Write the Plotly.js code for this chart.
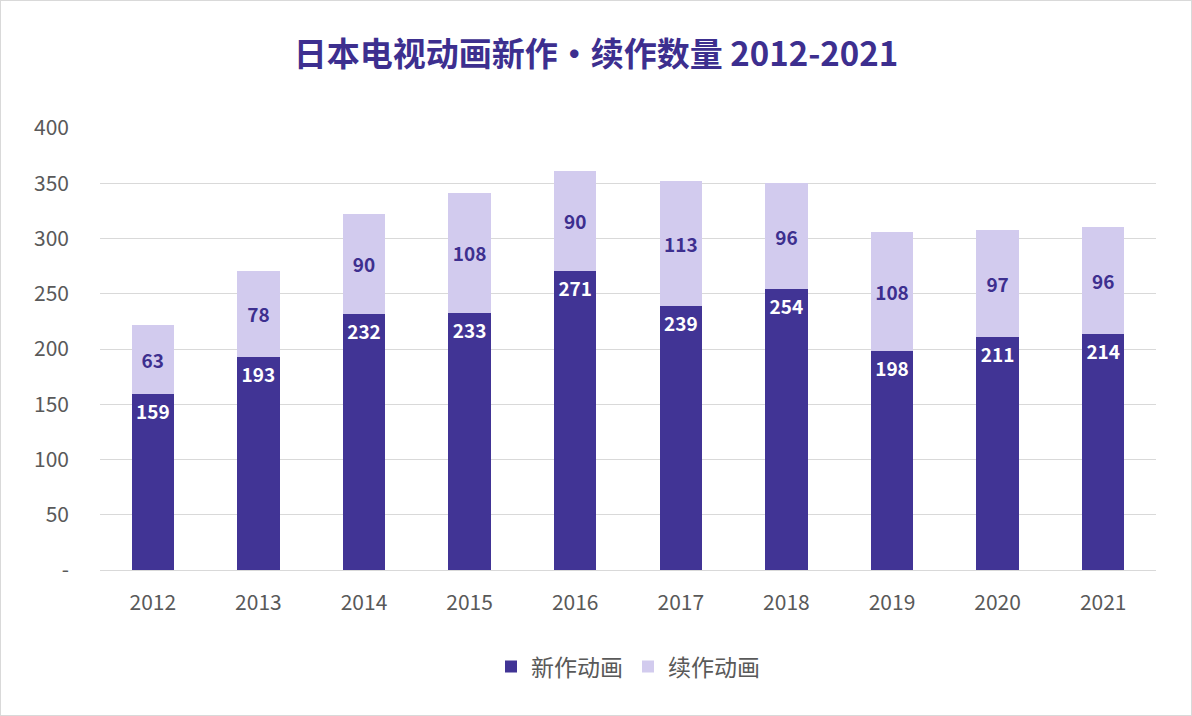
<!DOCTYPE html>
<html>
<head>
<meta charset="utf-8">
<script src="https://cdn.plot.ly/plotly-3.0.1.min.js"></script>
<style>
  body { margin: 0; }
  #chart { width: 1192px; height: 716px; box-sizing: border-box; border: 1px solid #d9d9d9; }
</style>
</head>
<body>
<div id="chart"></div>
<script>
var years = ['2012', '2013', '2014', '2015', '2016', '2017', '2018', '2019', '2020', '2021'];
var newWorks = [159, 193, 232, 233, 271, 239, 254, 198, 211, 214];
var sequels = [63, 78, 90, 108, 90, 113, 96, 108, 97, 96];
var yTicks = [0, 50, 100, 150, 200, 250, 300, 350, 400];
var yTickText = ['-', '50', '100', '150', '200', '250', '300', '350', '400'];

var fontFamily = '"Noto Sans CJK SC", "Open Sans", sans-serif';

var data = [
    {
        type: 'bar',
        name: '新作动画',
        x: years,
        y: newWorks,
        marker: { color: '#413495' },
        text: newWorks.map(String),
        textposition: 'inside',
        insidetextanchor: 'end',
        textfont: { color: '#ffffff', size: 19, family: fontFamily, weight: 'bold' },
        hoverinfo: 'x+y+name'
    },
    {
        type: 'bar',
        name: '续作动画',
        x: years,
        y: sequels,
        marker: { color: '#d2cbee' },
        text: sequels.map(String),
        textposition: 'inside',
        insidetextanchor: 'middle',
        textfont: { color: '#3d2f8f', size: 19, family: fontFamily, weight: 'bold' },
        hoverinfo: 'x+y+name'
    }
];

var layout = {
    width: 1190,
    height: 714,
    barmode: 'stack',
    bargap: 0.6,
    paper_bgcolor: '#ffffff',
    plot_bgcolor: '#ffffff',
    font: { family: fontFamily, color: '#595959', size: 18 },
    title: {
        text: '日本电视动画新作•续作数量 2012-2021',
        font: { family: fontFamily, size: 33, color: '#3d2f8f', weight: 'bold' },
        x: 0.5,
        y: 0.925,
        xanchor: 'center',
        yanchor: 'middle'
    },
    margin: { l: 99, r: 35, t: 127, b: 145 },
    xaxis: {
        type: 'category',
        showgrid: false,
        showline: true,
        linecolor: '#d9d9d9',
        ticks: '',
        ticklabelstandoff: 14,
        tickfont: { size: 21, color: '#595959' }
    },
    yaxis: {
        range: [0, 400],
        tickvals: yTicks,
        ticktext: yTickText,
        showgrid: true,
        gridcolor: '#d9d9d9',
        zeroline: false,
        ticks: '',
        ticklabelstandoff: 30,
        tickfont: { size: 21, color: '#595959' }
    },
    showlegend: true,
    legend: {
        orientation: 'h',
        x: 0.5,
        xanchor: 'center',
        y: -0.17,
        yanchor: 'top',
        font: { size: 23, color: '#595959' },
        traceorder: 'normal'
    }
};

Plotly.newPlot('chart', data, layout, { displayModeBar: false });
</script>
</body>
</html>
